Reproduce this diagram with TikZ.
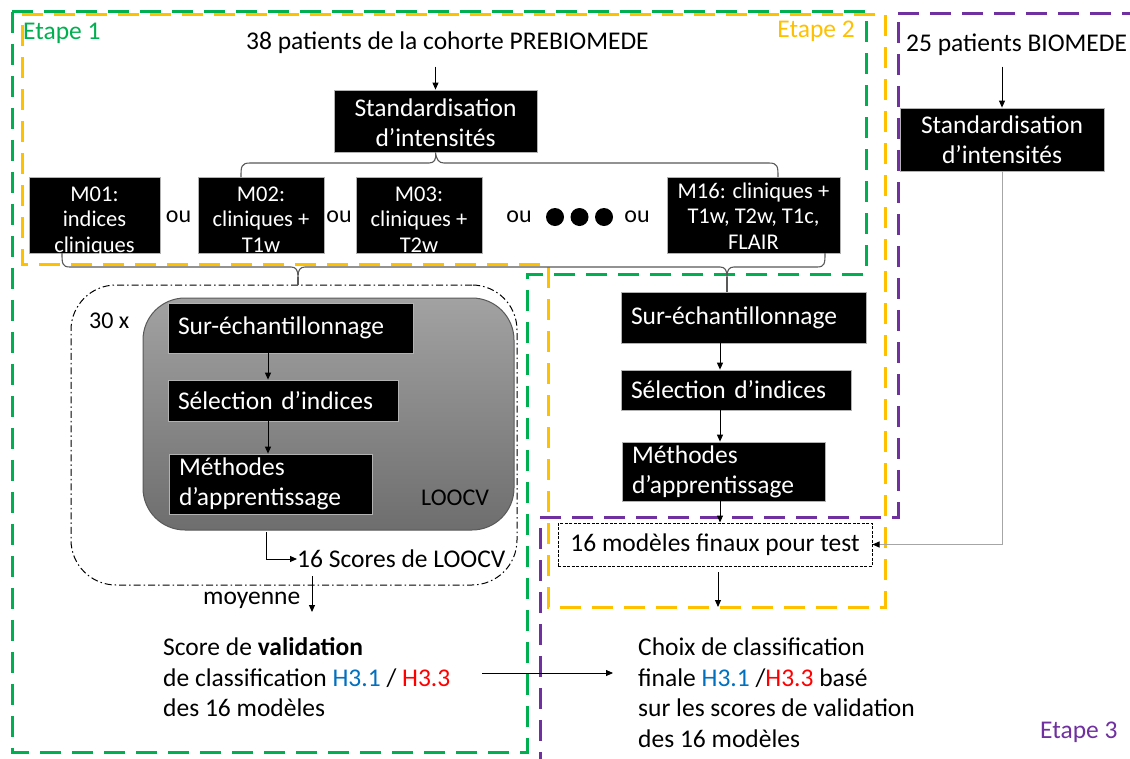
\documentclass[tikz,border=0pt]{standalone}
\usepackage{fontspec}
\setmainfont{Carlito}
\usetikzlibrary{arrows.meta,calc}
\definecolor{gE1}{HTML}{00B050}
\definecolor{yE2}{HTML}{FFC000}
\definecolor{pE3}{HTML}{7030A0}
\definecolor{hblue}{HTML}{0070C0}
\definecolor{hred}{HTML}{FF0000}
\definecolor{bracegray}{HTML}{595959}
\definecolor{lightg}{HTML}{A6A6A6}
\newcommand{\fsz}[2]{\fontsize{#1}{#2}\selectfont}
% #1 = half of the downward shift of the text inside its box
\newcommand{\mlines}[2]{\raisebox{-#1}[\dimexpr\height+#1\relax][\dimexpr\depth-#1\relax]{\begin{tabular}{@{}c@{}}#2\end{tabular}}}
\begin{document}
\begin{tikzpicture}[x=1pt,y=-1pt,
  stage/.style={line width=3pt, dash pattern=on 21pt off 11pt},
  bbox/.style={fill=black, draw=gray!60, line width=0.8pt, text=white, inner sep=0pt, font=\fsz{25.5}{30}, align=center},
  mbox/.style={bbox, font=\fsz{22.5}{25.5}},
  lbox/.style={bbox, align=left, inner xsep=10pt, text width=#1},
  arr/.style={line width=1pt, -{Triangle[length=7pt,width=6pt]}},
  arrg/.style={line width=1pt, draw=lightg, -{Triangle[length=7pt,width=6pt,color=black]}},
  brace/.style={draw=bracegray, line width=1.1pt},
  txt/.style={font=\fsz{25.5}{30.5}, inner sep=0pt},
  outxt/.style={font=\fsz{24}{28}, inner sep=0pt},
  dot/.style={circle, fill=black, minimum size=18pt, inner sep=0pt},
]
\useasboundingbox (0,0) rectangle (1130,758);
\clip (0,0) rectangle (1130,758);
\fill[white] (0,0) rectangle (1130,758);

% stage frames
\draw[stage, gE1] (12,11) -- (866,11) -- (866,274) -- (527,274) -- (527,752) -- (12,752) -- cycle;
\draw[stage, yE2] (22,14) -- (885,14) -- (885,607) -- (548,607) -- (548,264) -- (22,264) -- cycle;
\draw[stage, pE3] (898,13) -- (1160,13) -- (1160,800) -- (540,800) -- (540,517) -- (898,517) -- cycle;

% stage labels
\node[txt, gE1, anchor=west] (e1) at (23,33) {Etape 1};
\node[txt, yE2, anchor=east] (e2) at (855,31) {Etape 2};
\node[txt, pE3, anchor=west] (e3) at (1040,732) {Etape 3};

% top part
\node[txt, anchor=west] (p38) at (246,43) {38 patients de la cohorte PREBIOMEDE};
\node[bbox, minimum width=203pt, minimum height=62pt] (std1) at (435.5,121) {\mlines{2pt}{Standardisation\\d’intensités}};
\draw[arr] ($(std1.north)+(0,-23)$) -- (std1.north);

\node[mbox, minimum width=131pt, minimum height=75pt] (m01) at (94.5,215.5) {\mlines{3pt}{M01:\\indices\\cliniques}};
\node[mbox, minimum width=126pt, minimum height=75pt] (m02) at (261,215.5) {\mlines{3pt}{M02:\\cliniques +\\T1w}};
\node[mbox, minimum width=126pt, minimum height=75pt] (m03) at (419,215.5) {\mlines{3pt}{M03:\\cliniques +\\T2w}};
\node[mbox, minimum width=173pt, minimum height=75pt] (m16) at (753.5,215.5) {\mlines{1.5pt}{M16: cliniques +\\T1w, T2w, T1c,\\FLAIR}};

\node[outxt] (ou1) at (178.5,217) {ou};
\node[outxt] (ou2) at (339,217) {ou};
\node[outxt] (ou3) at (519,217) {ou};
\node[outxt] (ou4) at (637,217) {ou};
\node[dot] (d1) at (555,217) {};
\node[dot] (d2) at (579.5,217) {};
\node[dot] (d3) at (604,217) {};

% braces
\draw[brace] (241,177) .. controls (241,167) and (241,163) .. (250,163) -- (429,163)
  .. controls (434,163) and (436.5,160) .. (std1.south)
  .. controls (436.5,160) and (439,163) .. (444,163) -- (769,163)
  .. controls (778,163) and (778,167) .. (778,177);
\draw[brace] (62,253) .. controls (62,263) and (62,267) .. (70,267) -- (291,267)
  .. controls (296,267) and (298,270) .. (298,277)
  .. controls (298,270) and (300,267) .. (305,267) -- (720,267)
  .. controls (725,267) and (727,270) .. (727,277)
  .. controls (727,270) and (729,267) .. (734,267) -- (817,267)
  .. controls (825,267) and (825,263) .. (825,253);
\coordinate (bt1) at (298,277);
\coordinate (bt2) at (727,277);

% LOOCV part
\node[draw, line width=1pt, dash pattern=on 7pt off 3pt on 1.5pt off 3pt, rounded corners=45pt, minimum width=446pt, minimum height=300pt, inner sep=0pt] (loo) at (294,435) {};
\draw[brace] (bt1) -- (loo.north -| bt1);
\node[draw=bracegray, line width=1pt, rounded corners=42pt, top color={rgb,255:red,162;green,162;blue,162}, bottom color={rgb,255:red,110;green,110;blue,110}, minimum width=371pt, minimum height=232pt, inner sep=0pt] (gb) at (328.5,414) {};
\node[outxt, anchor=west] (x30) at (89,321) {30 x};
\node[outxt, anchor=west] (lcv) at (421,498) {LOOCV};

\node[lbox=225pt, minimum height=50pt] (sur1) at (290.5,328) {Sur-échantillonnage};
\node[lbox=210pt, minimum height=41pt] (sel1) at (283,400.5) {Sélection d’indices};
\node[lbox=183pt, minimum height=60pt] (met1) at (270.5,484) {Méthodes\\d’apprentissage};
\coordinate (cx1) at (268,0);
\draw[arr] (sur1.south -| cx1) -- (sel1.north -| cx1);
\draw[arr] (sel1.south -| cx1) -- (met1.north -| cx1);

\node[txt, anchor=west] (sc) at (297,559) {16 Scores de LOOCV};
\coordinate (cx0) at (266,532);
\draw[arr] (cx0) |- (sc.west);

\node[txt, anchor=west] (moy) at (203,600) {moyenne};
\coordinate (mA) at (312,576);
\coordinate (mB) at (312,612);
\draw[arr] (mA) -- (mB);

\node[txt, anchor=west, align=left] (val) at (163,677.5) {Score de \textbf{validation}\\de classification \textcolor{hblue}{H3.1} / \textcolor{hred}{H3.3}\\des 16 modèles};
\node[txt, anchor=west, align=left] (choix) at (638,692.5) {Choix de classification\\finale \textcolor{hblue}{H3.1} /\textcolor{hred}{H3.3} basé\\sur les scores de validation\\des 16 modèles};
\coordinate (vA) at (482,673);
\coordinate (vB) at (613,673);
\draw[arr, line width=0.8pt] (vA) -- (vB);

% right column
\node[lbox=225pt, minimum height=51pt] (sur2) at (743.5,317.5) {Sur-échantillonnage};
\draw[brace] (bt2) -- (sur2.north -| bt2);
\node[lbox=210pt, minimum height=40pt] (sel2) at (736,390) {Sélection d’indices};
\node[lbox=183pt, minimum height=59pt] (met2) at (723.5,471.5) {Méthodes\\d’apprentissage};
\node[draw, line width=1pt, dash pattern=on 3pt off 1.5pt, minimum width=314pt, minimum height=43pt, inner sep=0pt, font=\fsz{25.5}{30}] (fin) at (715,544.5) {16 modèles finaux pour test};
\coordinate (cx2) at (720,0);
\draw[arr] (sur2.south -| cx2) -- (sel2.north -| cx2);
\draw[arr] (sel2.south -| cx2) -- (met2.north -| cx2);
\draw[arr] (met2.south -| cx2) -- (fin.north -| cx2);
\coordinate (fA) at (718,572);
\coordinate (fB) at (718,607);
\draw[arr] (fA) -- (fB);

% BIOMEDE
\node[txt, anchor=west] (p25) at (906,45) {25 patients BIOMEDE};
\node[bbox, minimum width=204pt, minimum height=63pt] (std2) at (1002,139.5) {\mlines{1.5pt}{Standardisation\\d’intensités}};
\draw[arr] ($(std2.north)+(0,-41)$) -- (std2.north);
\draw[arrg] (std2.south) |- (fin.east);
\end{tikzpicture}
\end{document}
